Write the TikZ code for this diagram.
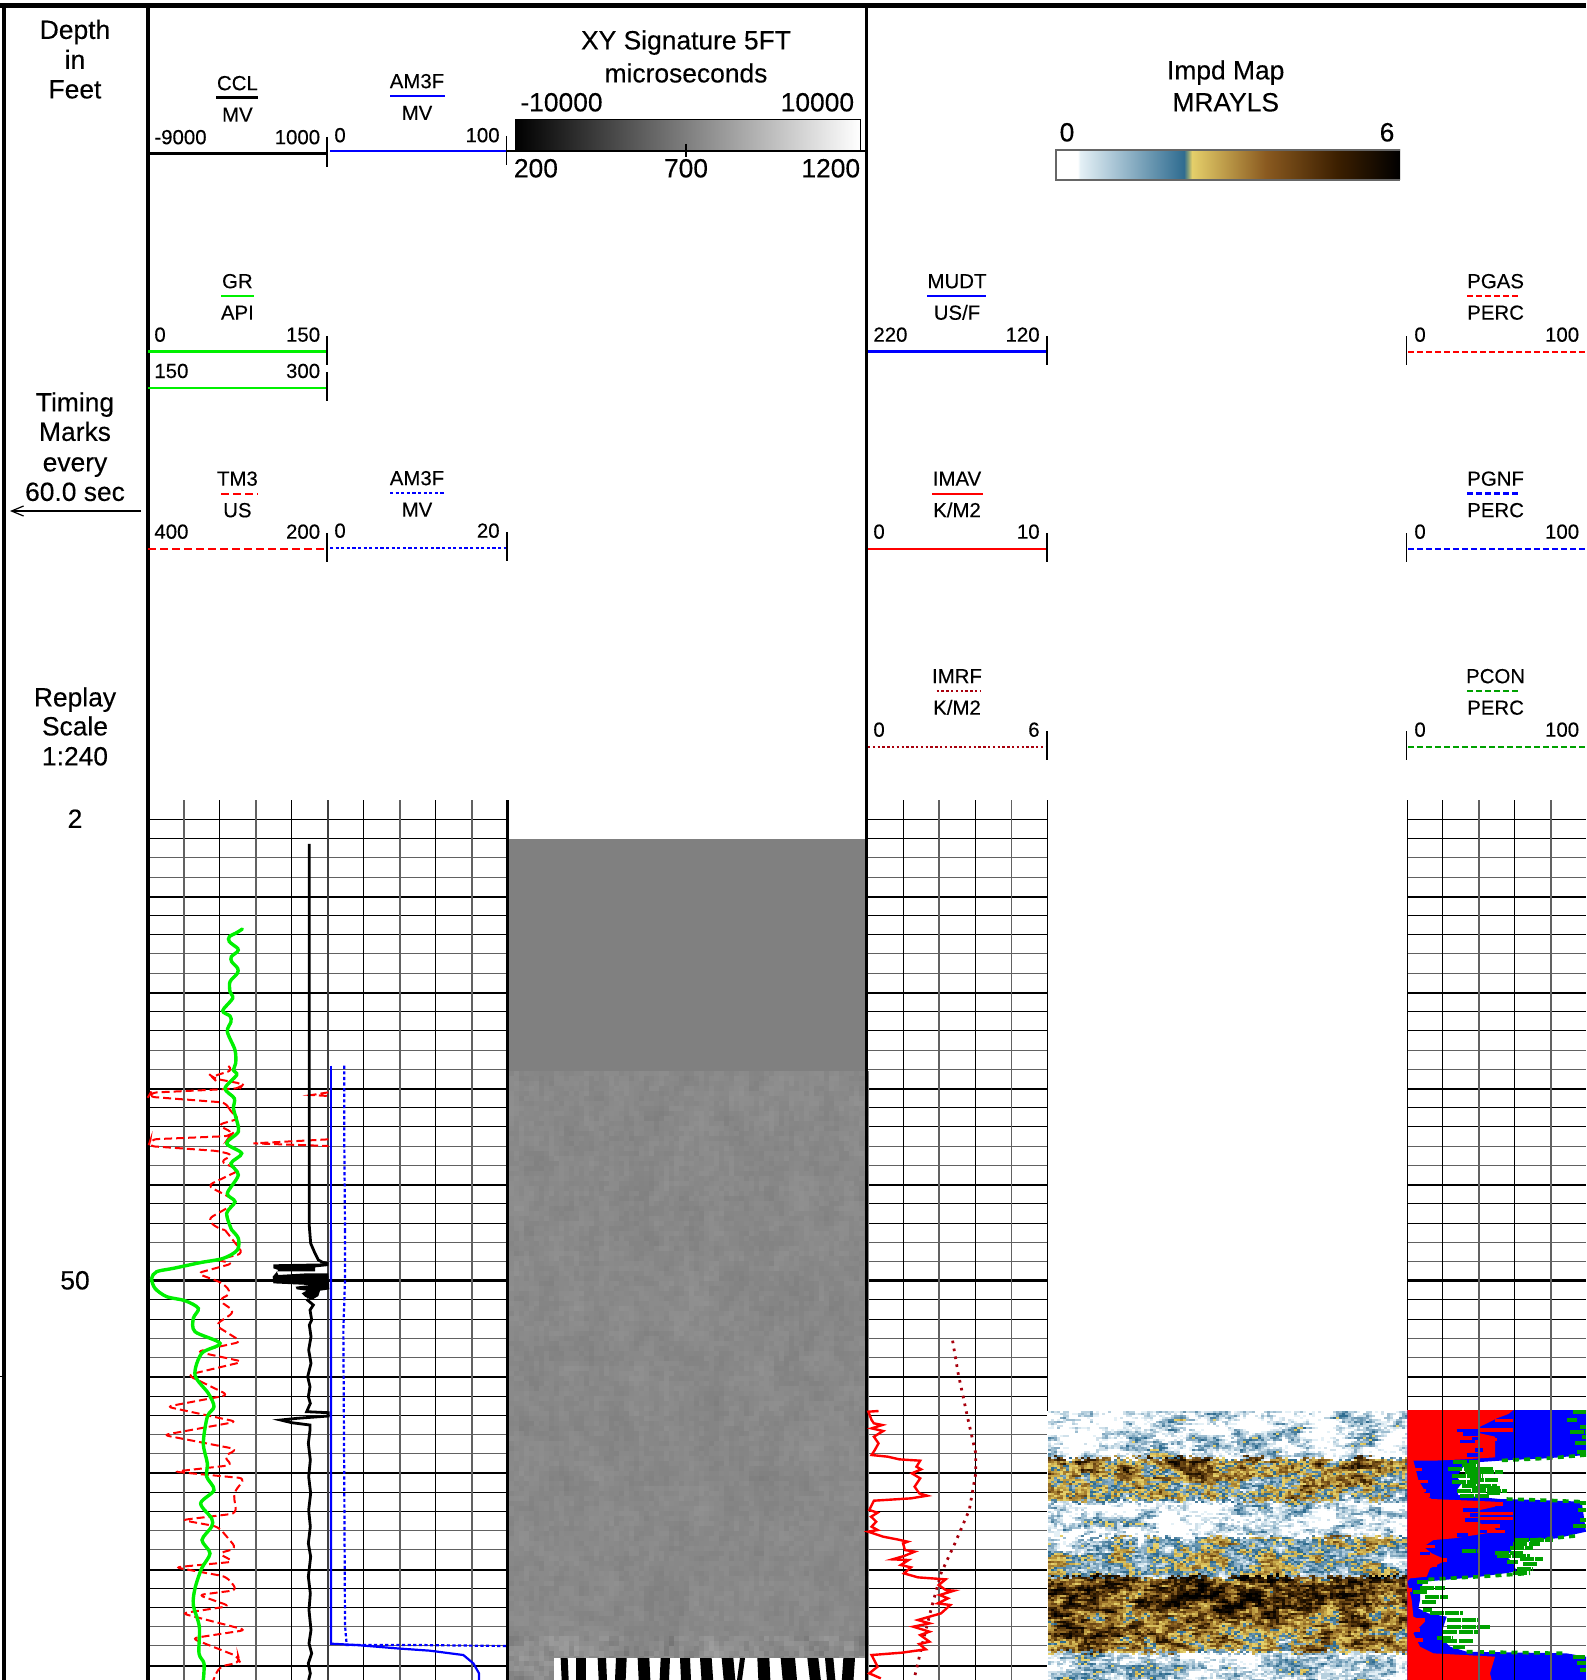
\documentclass[tikz,border=0pt]{standalone}
\usepackage{fontspec}
\setmainfont[FakeBold=0.22]{Liberation Sans}
\usetikzlibrary{arrows.meta}
\definecolor{gr}{rgb}{0,.94,0}
\definecolor{pcon}{rgb}{0,.63,0}
\definecolor{drk}{rgb}{.66,0,.05}
\definecolor{cA}{HTML}{E4F0F6}
\definecolor{cB}{HTML}{2F6C90}
\definecolor{cC}{HTML}{7D9A7A}
\definecolor{cD}{HTML}{E5CF6A}
\definecolor{cE}{HTML}{8A5A20}
\definecolor{cF}{HTML}{3C1F00}
\pgfdeclarehorizontalshading{impbar}{100bp}{color(0bp)=(white); color(28.15bp)=(white); color(28.5bp)=(cA); color(43.6bp)=(cB); color(44.15bp)=(cC); color(44.75bp)=(cD); color(55.5bp)=(cE); color(65.85bp)=(cF); color(75bp)=(black); color(100bp)=(black)}
\tikzset{
  small/.style={inner sep=0pt,font=\fontsize{10.2}{12}\selectfont,text height=7.2pt,text depth=0pt},
  big/.style={inner sep=0pt,font=\fontsize{13.2}{15}\selectfont,text height=9.4pt,text depth=0pt},
  gridthin/.style={line width=.55pt,black},
  gridgray/.style={line width=.9pt,black!62},
  gridthick/.style={line width=1pt,black},
  tickm/.style={line width=.55pt,black},
  zmA/.style={x=0.16667pt,y=-0.16667pt},
  zmB/.style={x=0.23148pt,y=-0.16667pt},
  redd/.style={red,line width=1pt,dash pattern=on 4pt off 2pt},
  reddh/.style={red,line width=1.2pt,dash pattern=on 3pt off 1.5pt},
  blued/.style={blue,line width=1.1pt,dash pattern=on 1.6pt off 1.2pt},
  blueh/.style={blue,line width=1.2pt,dash pattern=on 3pt off 1.5pt},
  drkd/.style={drk,line width=1.1pt,dash pattern=on 1.2pt off 1.2pt},
  greenh/.style={pcon,line width=1.2pt,dash pattern=on 3pt off 1.5pt},
  grn/.style={gr,line width=1.7pt},
  blu/.style={blue,line width=1.3pt},
  rdl/.style={red,line width=1pt},
  blk/.style={black,line width=1.4pt},
  gblot/.style={pcon,line width=1.9pt,dash pattern=on 7pt off .6pt},
  gedge/.style={pcon,line width=1.8pt,dash pattern=on 3pt off 2.6pt},
}
% header: name, centre x, row offset y, label, unit, bar style, bar x1, bar x2
\newcommand\curvehead[8]{%
  \node[small] (#1t) at (#2,#3+281) {#4};
  \node[small] (#1u) at (#2,#3+312.5) {#5};
  \draw[#6] (#7,#3+296) -- (#8,#3+296);}
% scale: name, y offset, line x1, line x2, tick x, left text x, right text x, left, right  (style in scst)
\newcommand\curvescale[9]{%
  \node[small,anchor=west] (#1l) at (#6,#2+334.5) {#8};
  \node[small,anchor=east] (#1r) at (#7,#2+334.5) {#9};
  \draw[scst] (#3,#2+351.7) -- (#4,#2+351.7);
  \draw[tickm] (#5,#2+336) -- (#5,#2+365);}
% raw noise images
\makeatletter
\newcommand\rawcode[1]{\pgfsys@invoke{#1}}
\newcommand\rawflush{\pgfsysprotocol@flushcurrentprotocol}
\makeatother
\newcount\rs \rs=12345
\newcount\rt \newcount\rr \newcount\ri \newcount\rj \newcount\fl \newcount\fc \newcount\vv \newcount\yy \newcount\bs \newcount\am \newcount\cl
\def\nextrand{\rt=\rs \multiply\rt by 28653 \advance\rt by 74 \rs=\rt \divide\rs by 65537 \multiply\rs by 65537 \rs=\numexpr\rt-\rs\relax \rr=\rs \divide\rr by 66 \advance\rr by -496 }
\def\setc#1#2{\expandafter\def\csname impc#1\endcsname{#2 rg}}
\setc{2}{.894 .941 .965}\setc{3}{.812 .878 .918}\setc{4}{.718 .816 .871}\setc{5}{.616 .741 .816}
\setc{6}{.514 .663 .757}\setc{7}{.404 .584 .69}\setc{8}{.298 .502 .624}\setc{9}{.184 .424 .565}
\setc{10}{.898 .812 .416}\setc{11}{.847 .745 .353}\setc{12}{.788 .667 .298}\setc{13}{.722 .588 .243}
\setc{14}{.651 .502 .196}\setc{15}{.573 .416 .149}\setc{16}{.494 .337 .11}\setc{17}{.416 .275 .078}
\setc{18}{.333 .212 .047}\setc{19}{.259 .153 .024}\setc{20}{.192 .106 .008}\setc{21}{.141 .078 .004}
\setc{22}{.098 .051 .004}\setc{23}{.063 .031 .004}\setc{24}{.027 .012 0}\setc{25}{0 0 0}
% column index: boustrophedon scan, so the noise has no diagonal grain
\def\setcol#1{\ifodd\rj \cl=\numexpr#1-1-\ri\relax \else \cl=\ri \fi}
% impedance map
\def\impband{\yy=\numexpr 1411+2*\rj+\rr/170\relax
  \ifnum\yy<1458 \bs=100 \am=130 \else
  \ifnum\yy<1501 \bs=475 \am=165 \else
  \ifnum\yy<1537 \bs=85 \am=130 \else
  \ifnum\yy<1576 \bs=320 \am=135 \else
  \ifnum\yy<1610 \bs=730 \am=175 \else
  \ifnum\yy<1625 \bs=640 \am=175 \else
  \ifnum\yy<1652 \bs=550 \am=165 \else
  \bs=90 \am=130 \fi\fi\fi\fi\fi\fi\fi}
\def\impcell{\nextrand \setcol{120}%
  \fc=\numexpr(60*\fl+33*\csname fu\the\cl\endcsname+60*\rr)/100\relax \fl=\fc
  \expandafter\edef\csname fu\the\cl\endcsname{\the\fc}%
  \impband
  \vv=\numexpr(\bs+\am*\fc/289)/40\relax
  \ifnum\vv>25 \vv=25 \fi
  \ifnum\vv>1
    \rawcode{\csname impc\the\vv\endcsname\space\the\numexpr1048+3*\cl\relax\space\the\numexpr1411+2*\rj\relax\space 3.5 2.5 re f}%
  \fi
  \advance\ri by 1
  \ifnum\ri<120 \expandafter\impcell\fi}
\def\imprun{\ri=0 \fl=0 \impcell \rawflush \advance\rj by 1 \ifnum\rj<135 \expandafter\imprun\fi}
% seismic gray
\def\graycell{\nextrand \setcol{72}%
  \fc=\numexpr(35*\fl+45*\csname gu\the\cl\endcsname+75*\rr)/100\relax \fl=\fc
  \expandafter\edef\csname gu\the\cl\endcsname{\the\fc}%
  \yy=\numexpr1071+5*\rj\relax
  \ifnum\yy>1635 \vv=\numexpr 540+\fc/9\relax \else \vv=\numexpr 535+\fc/22\relax \fi
  \ifnum\vv<100 \vv=100 \fi \ifnum\vv>999 \vv=999 \fi
  \rawcode{.\the\vv\space g \the\numexpr509+5*\cl\relax\space\the\yy\space 5.4 5.4 re f}%
  \advance\ri by 1
  \ifnum\ri<72 \expandafter\graycell\fi}
\def\grayrun{\ri=0 \fl=0 \graycell \rawflush \advance\rj by 1 \ifnum\rj<123 \expandafter\grayrun\fi}
\begin{document}
\begin{tikzpicture}[x=0.5pt,y=-0.5pt]
\useasboundingbox (0,0) rectangle (1586,1680);
\fill[white] (0,0) rectangle (1586,1680);
% horizontal grid
\foreach \n in {-24,...,20}{
  \pgfmathsetmacro\gy{floor(1280.7+19.22*\n)+.5}
  \pgfmathtruncatemacro\mm{mod(\n+25,5)}
  \ifnum\mm=0 \def\gs{gridthick}\else\ifnum\mm<3 \def\gs{gridthin}\else\def\gs{gridgray}\fi\fi
  \ifnum\n=0 \def\gs{blk}\fi
  \draw[\gs] (150,\gy) -- (507,\gy);
  \draw[\gs] (867,\gy) -- (1047,\gy);
  \draw[\gs] (1407,\gy) -- (1586,\gy);
}
% seismic image
\fill[black!50] (507,839) rectangle (866,1072);
\rawflush
\rawcode{q .49813 0 0 -.49813 0 0 cm}
\ri=0 \loop \expandafter\edef\csname gu\the\ri\endcsname{0}\advance\ri by 1 \ifnum\ri<72 \repeat
\rj=0 \grayrun
\ri=0 \loop \expandafter\edef\csname fu\the\ri\endcsname{0}\advance\ri by 1 \ifnum\ri<120 \repeat
\rj=0 \imprun
\rawcode{Q}
\rawflush
% zebra
\fill[white] (554,1658) rectangle (865,1680);
\foreach \a/\b/\d in {182/203/1,228/258/0,293/318/1,348/380/-1,413/448/1,482/510/-1,540/570/1,600/635/1.5,665/700/2,720/735/-3,772/808/1,842/885/2,922/955/2.5,975/1000/2,1030/1065/-1.5}{
  \fill[black] (500+\a/3,1658) -- (500+\b/3,1658) -- (500+\b/3+\d,1680) -- (500+\a/3+\d,1680) -- cycle;
}
% percent track fills
\begin{scope}[shift={(1400,1400)},zmA]
\fill[blue] (22,30) -- (558,30) -- (558,165) -- (440,175) -- (330,180) -- (240,186) -- (190,200) -- (170,230) -- (185,250) -- (170,270) -- (175,285) -- (300,297) -- (420,300) -- (545,305) -- (558,395) -- (470,415) -- (400,420) -- (345,435) -- (320,470) -- (340,490) -- (350,515) -- (240,530) -- (130,540) -- (70,545) -- (60,575) -- (60,600) -- (55,625) -- (85,640) -- (140,650) -- (130,680) -- (125,715) -- (150,740) -- (200,755) -- (500,760) -- (558,770) -- (558,840) -- (22,840) -- cycle;
\fill[red] (22,30) -- (340,30) -- (325,42) -- (290,55) -- (265,68) -- (240,80) -- (240,100) -- (285,110) -- (285,172) -- (190,178) -- (100,182) -- (40,182) -- (45,200) -- (55,240) -- (70,265) -- (75,285) -- (95,297) -- (285,305) -- (285,320) -- (240,330) -- (240,370) -- (285,385) -- (290,395) -- (160,415) -- (100,420) -- (70,440) -- (95,460) -- (140,480) -- (90,505) -- (80,530) -- (30,535) -- (22,545) -- (35,600) -- (40,650) -- (75,665) -- (40,700) -- (60,740) -- (100,760) -- (285,770) -- (270,820) -- (275,840) -- (22,840) -- cycle;
\foreach \a/\y/\b in {170/92/235,190/102/240,215/115/240,180/125/225,225/150/250,200/165/240,190/330/235,210/345/240,195/360/235,240/395/285,170/405/205,60/460/90}{
  \draw[blue,line width=1.6pt] (\a,\y) -- (\b,\y);}
\foreach \a/\y/\b in {285/62/340,240/90/340,250/118/290,285/312/310,240/340/340,240/355/340,250/378/300,260/395/315,45/208/65,40/245/85,35/272/78,50/285/90,60/440/105,45/480/140,50/497/110,45/510/85,30/660/75,30/690/60,35/720/70,20/570/35,255/790/275,240/805/270}{
  \draw[red,line width=1.6pt] (\a,\y) -- (\b,\y);}
\foreach \a/\y/\b in {160/185/235,185/195/240,145/208/280,195/215/310,155/228/250,210/240/295,155/245/240,185/258/290,215/265/300,170/272/320,180/288/270,260/280/300,345/420/460,340/432/420,330/445/400,185/452/240,285/460/370,290/468/390,320/487/355,360/478/428,370/492/410,350/508/400,340/520/390,50/545/85,60/565/135,40/575/80,75/590/145,65/605/110,70/630/95,90/640/190,140/660/240,140/680/270,130/695/240,110/715/160,130/722/220,160/740/195,520/35/558,500/60/530,510/95/558,540/80/558,545/110/558,525/130/558,530/155/558,540/310/558,535/330/558,520/378/558,540/360/558,520/770/555,530/790/558,540/810/558}{
  \draw[gblot] (\a,\y) -- (\b,\y);}
\draw[gedge] (558,165) -- (440,175) -- (290,182);
\draw[gedge] (320,297) -- (420,300) -- (545,305);
\draw[gedge] (525,408) -- (400,420);
\draw[gedge] (85,538) -- (240,530) -- (390,520);
\draw[gedge] (200,755) -- (500,760);
\end{scope}
% vertical grid
\foreach \vx in {219.5,291.5,363.5,435.5,903.5,975.5,1442.5,1514.5}{
  \draw[gridthin] (\vx,800) -- (\vx,1680);}
\foreach \vx in {184,256,400,472,939,1011.5,1479,1551}{
  \draw[gridgray] (\vx,800) -- (\vx,1680);}
\draw[line width=.9pt,black!75] (328.3,800) -- (328.3,1680);
\draw[line width=1.6pt] (507.3,800) -- (507.3,1680);
\draw[line width=.8pt] (1047.5,800) -- (1047.5,1411);
\draw[line width=.8pt] (1407.5,800) -- (1407.5,1410);
% frame
\draw[line width=2.2pt] (0,5.7) -- (1586,5.7);
\draw[line width=2.2pt] (4,5) -- (4,1680);
\draw[line width=2.2pt] (147.7,5) -- (147.7,1680);
\draw[line width=1.6pt] (866.8,5) -- (866.8,1680);
\draw[line width=.6pt] (0,1376.7) -- (3,1376.7);
% left column
\node[big] (depth) at (75,29.5) {Depth};
\node[big] (inn) at (75,59.5) {in};
\node[big] (feet) at (75,89) {Feet};
\node[big] (timing) at (75,402) {Timing};
\node[big] (marks) at (75,431.5) {Marks};
\node[big] (every) at (75,462) {every};
\node[big] (sec) at (75,491.5) {60.0 sec};
\coordinate (arrt) at (141,511);
\coordinate (arrh) at (10,511);
\draw[line width=.6pt,-{Straight Barb[length=6pt,width=5pt]}] (arrt) -- (arrh);
\node[big] (replay) at (75,697) {Replay};
\node[big] (scale) at (75,726) {Scale};
\node[big] (ratio) at (75,756) {1:240};
\node[big] (d2) at (75,818.5) {2};
\node[big] (d50) at (75,1280) {50};
% xy signature header
\node[big] (xyt) at (686,40) {XY Signature 5FT};
\node[big] (xyu) at (686,73) {microseconds};
\node[big,anchor=west] (xyl) at (520,102) {-10000};
\node[big,anchor=east] (xyr) at (854.5,102) {10000};
\shade[left color=black,right color=white] (515,120) rectangle (860,150);
\draw[line width=.5pt] (515,120) -- (860,120) -- (860,150);
\draw[line width=1.1pt] (507,151) -- (866,151);
\draw[tickm] (686,144) -- (686,157);
\node[big,anchor=west] (t200) at (513.5,168) {200};
\node[big] (t700) at (686,168) {700};
\node[big,anchor=east] (t1200) at (860.5,168) {1200};
% impd header
\node[big] (imt) at (1225.7,70) {Impd Map};
\node[big] (imu) at (1225.7,102) {MRAYLS};
\node[big] (im0) at (1067,132) {0};
\node[big] (im6) at (1387,132) {6};
\shade[shading=impbar] (1056,150) rectangle (1400,180);
\draw[black!60,line width=.7pt] (1400,150) -- (1056,150) -- (1056,180) -- (1400,180);
% curve headers, track 1
\curvehead{ccl}{237.4}{-198}{CCL}{MV}{line width=1.5pt}{216}{258}
\node[small,anchor=west] (ccll) at (154,137) {-9000};
\node[small,anchor=east] (cclr) at (320.5,137) {1000};
\draw[line width=1.5pt] (148,153.7) -- (327,153.7);
\draw[tickm] (327,137) -- (327,167);
\node[small] (am1t) at (417,81) {AM3F};
\draw[blue,line width=1.1pt] (390,95.7) -- (444.5,95.7);
\node[small] (am1u) at (417,112.7) {MV};
\node[small,anchor=west] (am1l) at (334,135) {0};
\node[small,anchor=east] (am1r) at (500,135) {100};
\draw[blue,line width=1.1pt] (330,151.3) -- (507,151.3);
\draw[tickm] (506.7,136) -- (506.7,165);
\curvehead{gr}{237.4}{0}{GR}{API}{gr,line width=1.3pt}{221}{253.6}
\tikzset{scst/.style={gr,line width=1.4pt}}
\curvescale{gra}{0}{148}{327}{327}{154}{320.5}{0}{150}
\curvescale{grb}{36.3}{148}{327}{327}{154}{320.5}{150}{300}
\curvehead{tm}{237.4}{197.5}{TM3}{US}{redd}{221}{258}
\tikzset{scst/.style={redd}}
\curvescale{tms}{197}{148}{327}{327}{154}{320.5}{400}{200}
\curvehead{am2}{417}{197}{AM3F}{MV}{blued}{390}{444.5}
\tikzset{scst/.style={blued}}
\curvescale{ams}{196}{330}{507}{507}{334}{500}{0}{20}
% track 2
\curvehead{mu}{957}{0}{MUDT}{US/F}{blue,line width=1.3pt}{927}{986.4}
\tikzset{scst/.style={blue,line width=1.4pt}}
\curvescale{mus}{0}{868}{1047}{1047}{873}{1040}{220}{120}
\curvehead{iv}{957}{197.5}{IMAV}{K/M2}{rdl}{932}{982.6}
\tikzset{scst/.style={rdl}}
\curvescale{ivs}{197}{868}{1047}{1047}{873}{1040}{0}{10}
\curvehead{ir}{957}{395}{IMRF}{K/M2}{drkd}{936.6}{980.5}
\tikzset{scst/.style={drkd}}
\curvescale{irs}{395}{868}{1047}{1047}{873}{1040}{0}{6}
% track 3
\curvehead{pg}{1495.6}{0}{PGAS}{PERC}{reddh}{1467}{1519}
\tikzset{scst/.style={reddh}}
\curvescale{pgs}{0}{1408}{1586}{1406.3}{1414}{1579.5}{0}{100}
\curvehead{pn}{1495.6}{197.5}{PGNF}{PERC}{blueh}{1467}{1519}
\tikzset{scst/.style={blueh}}
\curvescale{pns}{197}{1408}{1586}{1406.3}{1414}{1579.5}{0}{100}
\curvehead{pc}{1495.6}{395}{PCON}{PERC}{greenh}{1467}{1519}
\tikzset{scst/.style={greenh}}
\curvescale{pcs}{395}{1408}{1586}{1406.3}{1414}{1579.5}{0}{100}
% log curves, upper part
\begin{scope}[shift={(130,780)},zmA]
\draw[redd,rounded corners=3pt] (295,858) -- (310,870) -- (245,890) -- (250,895) -- (340,912) -- (330,925) -- (230,930) -- (62,938) -- (55,950) -- (290,968) -- (300,995) -- (330,1015) -- (262,1035) -- (310,1058) -- (300,1068) -- (62,1078) -- (55,1098) -- (265,1113) -- (310,1125) -- (270,1145) -- (330,1170) -- (232,1217) -- (325,1265) -- (232,1318) -- (262,1345) -- (285,1350);
\draw[redd] (595,937) -- (545,945) -- (595,948);
\draw[redd] (595,1078) -- (370,1090) -- (595,1098);
\draw[blu,line width=1.1pt] (603,857) -- (603,1350);
\draw[blued] (643,857) -- (643,1100) -- (645,1350);
\draw[grn,line cap=round] plot[smooth,tension=.5] coordinates {(337,447) (320,458) (298,470) (298,485) (323,505) (322,515) (304,530) (305,545) (323,565) (322,580) (300,605) (300,635) (308,655) (278,692) (300,708) (303,725) (292,755) (315,810) (317,850) (310,870) (320,885) (285,925) (313,955) (310,985) (317,1010) (325,1055) (290,1090) (335,1120) (303,1150) (325,1185) (292,1240) (315,1265) (290,1300) (305,1350)};
\end{scope}
% log curves, lower part
\begin{scope}[shift={(130,1230)},zmA]
\draw[redd,rounded corners=3pt] (285,0) -- (340,70) -- (260,90) -- (310,100) -- (200,130) -- (280,160) -- (305,190) -- (265,210) -- (315,245) -- (255,285) -- (335,335) -- (200,365) -- (340,395) -- (172,435) -- (295,495) -- (110,530) -- (320,575) -- (100,615) -- (322,658) -- (280,680) -- (308,705) -- (132,725) -- (345,745) -- (310,790) -- (320,850) -- (155,870) -- (265,890) -- (320,955) -- (265,970) -- (312,995) -- (135,1012) -- (290,1040) -- (322,1080) -- (205,1095) -- (300,1128) -- (155,1150) -- (348,1200) -- (185,1225) -- (325,1280) -- (330,1297) -- (268,1310) -- (250,1350);
\draw[blk] (538,-1158) -- (538,-10) -- (542,40) -- (555,70) -- (565,90) -- (578,97) -- (595,100);
\fill[black] (430,103) -- (595,100) -- (595,108) -- (555,112) -- (555,124) -- (440,124) -- (445,135) -- (530,130) -- (595,130) -- (598,178) -- (570,182) -- (565,198) -- (545,210) -- (525,200) -- (515,190) -- (530,182) -- (500,178) -- (497,170) -- (540,165) -- (430,160) -- (428,140) -- (445,120) -- (430,115) -- cycle;
\draw[blk,line width=1.4pt] (530,208) -- (550,225) -- (540,240) -- (545,270) -- (538,285) -- (543,320) -- (536,360) -- (543,400) -- (533,440) -- (540,470) -- (535,500) -- (541,520) -- (530,545) -- (595,548) -- (595,558) -- (500,565) -- (452,570) -- (485,578) -- (540,585) -- (540,600) -- (535,640) -- (541,690) -- (536,740) -- (542,790) -- (536,840) -- (541,890) -- (535,940) -- (542,980) -- (535,1040) -- (541,1090) -- (537,1140) -- (543,1200) -- (537,1240) -- (545,1270) -- (535,1300) -- (541,1330) -- (536,1350);
\draw[blu,line width=1.1pt] (603,0) -- (603,1241) -- (680,1245) -- (800,1255) -- (900,1262) -- (1000,1275) -- (1030,1300) -- (1047,1330) -- (1047,1350);
\draw[blued] (645,0) -- (645,150) -- (640,300) -- (643,800) -- (645,1185) -- (650,1245) -- (870,1245) -- (1130,1248);
\draw[grn,line cap=round] plot[smooth,tension=.5] coordinates {(305,0) (325,25) (322,60) (280,85) (210,98) (130,115) (80,125) (65,145) (75,175) (110,200) (165,212) (205,235) (190,265) (195,305) (270,340) (215,370) (195,435) (235,490) (252,530) (232,560) (220,640) (232,700) (230,740) (252,780) (212,820) (245,865) (245,890) (216,930) (240,970) (215,1015) (195,1075) (190,1125) (208,1190) (207,1270) (222,1300) (220,1350)};
\end{scope}
% track 2 curves
\begin{scope}[shift={(860,1330)},zmB]
\draw[drk,line width=1.4pt,dash pattern=on 1.3pt off 2.7pt] (200,32) -- (212,130) -- (232,260) -- (250,370) -- (250,430) -- (236,540) -- (205,640) -- (175,730) -- (155,830) -- (135,940) -- (118,1040);
\draw[red,line width=1.2pt] (40,243) -- (18,245) -- (25,270) -- (30,280) -- (48,285) -- (25,295) -- (50,303) -- (30,320) -- (40,340) -- (32,360) -- (25,375) -- (60,380) -- (85,388) -- (130,392) -- (122,410) -- (132,418) -- (112,430) -- (130,445) -- (118,470) -- (128,490) -- (145,497) -- (110,505) -- (30,512) -- (20,540) -- (38,548) -- (24,560) -- (35,575) -- (25,590) -- (38,600) -- (18,605) -- (50,620) -- (80,628) -- (103,635) -- (93,640) -- (97,660) -- (118,665) -- (95,678) -- (70,688) -- (105,690) -- (88,705) -- (110,712) -- (95,730) -- (125,742) -- (185,748) -- (170,765) -- (185,780) -- (203,782) -- (172,795) -- (190,805) -- (168,820) -- (195,825) -- (175,850) -- (125,870) -- (150,880) -- (115,890) -- (150,905) -- (130,915) -- (150,935) -- (128,942) -- (142,958) -- (90,968) -- (25,975) -- (38,1010) -- (20,1030) -- (45,1045);
\end{scope}
\end{tikzpicture}
\end{document}
